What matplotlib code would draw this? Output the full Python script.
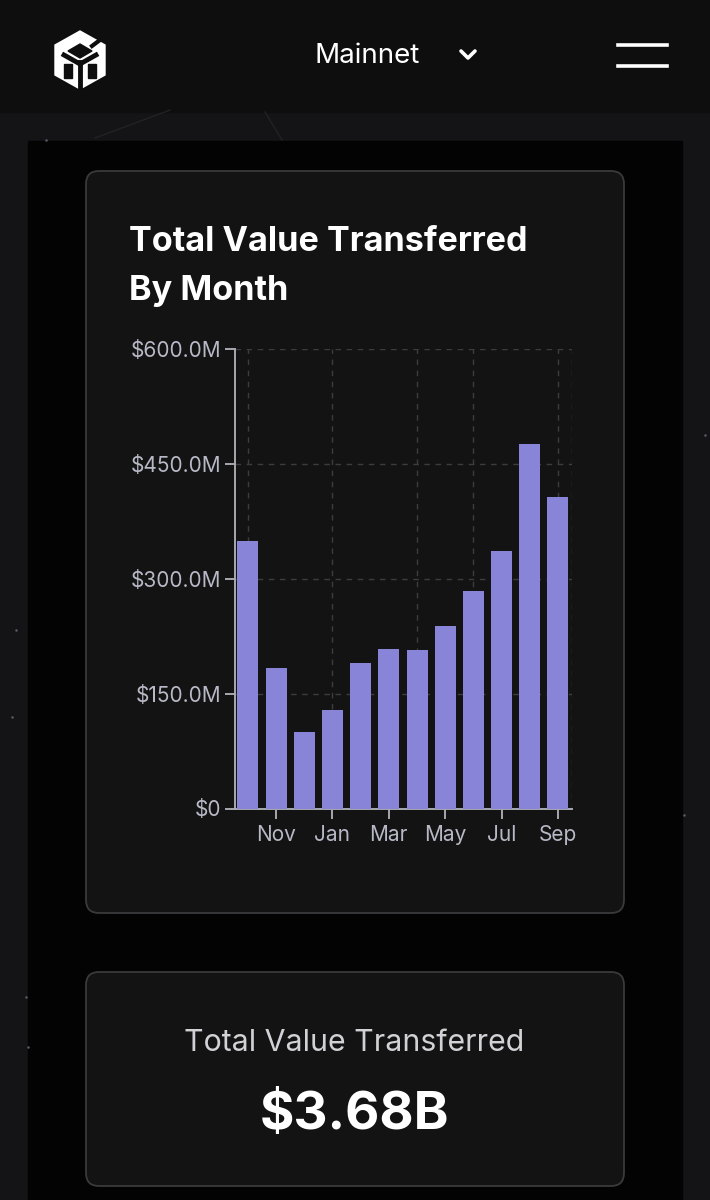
import matplotlib
matplotlib.use("Agg")
import matplotlib.pyplot as plt
from matplotlib.patches import FancyBboxPatch, Rectangle, Polygon
from matplotlib.ticker import FuncFormatter

# Data (values in $M)
months = ["Oct", "Nov", "Dec", "Jan", "Feb", "Mar", "Apr", "May", "Jun", "Jul", "Aug", "Sep"]
values = [349, 183, 100, 129, 190, 209, 207, 238, 284, 336, 476, 407]
y_ticks = [0, 150, 300, 450, 600]
x_tick_idx = [1, 3, 5, 7, 9, 11]
grid_idx = [0, 3, 6, 8, 11]
total_label = "$3.68B"

W, H = 710, 1200
BAR = "#8884d8"
TICK = "#b8b8c6"

plt.rcParams["font.family"] = ["Inter", "DejaVu Sans"]

fig = plt.figure(figsize=(W / 100, H / 100), dpi=100)
fig.patch.set_facecolor("#141416")

# page layer in pixel coordinates
bg = fig.add_axes([0, 0, 1, 1], zorder=0)
bg.set_xlim(0, W)
bg.set_ylim(H, 0)
bg.axis("off")

# faint background lines / dots
bg.plot([95, 170], [138, 110], color="#222226", lw=1)
bg.plot([265, 282], [112, 140], color="#222226", lw=1)
for px, py in [(46, 140), (16, 630), (12, 717), (26, 997), (28, 1047), (684, 815), (705, 435)]:
    bg.plot(px, py, "o", ms=1.8, color="#5a5a6a", mec="none")

# header
bg.add_patch(Rectangle((0, 0), W, 112, color="#0e0e0f", zorder=1))
# logo (rough cube)
hexa = [(80, 31), (105, 45), (105, 75), (80, 89), (55, 75), (55, 45)]
bg.add_patch(Polygon(hexa, closed=True, color="white", zorder=2))
bg.add_patch(Polygon([(80, 44), (92, 51), (80, 58), (68, 51)], closed=True, color="#0e0e0f", zorder=3))
bg.plot([80, 80], [62, 90], color="#0e0e0f", lw=3.5, zorder=3)
bg.plot([64, 80, 96], [55, 64, 55], color="#0e0e0f", lw=3.5, zorder=3)
bg.add_patch(Rectangle((64, 64), 8, 14, color="#0e0e0f", zorder=3))
bg.add_patch(Rectangle((88, 64), 8, 14, color="#0e0e0f", zorder=3))
bg.plot([92, 100], [46, 40], color="#0e0e0f", lw=3, zorder=3)

bg.text(367, 63, "Mainnet", color="white", fontsize=20, ha="center", va="baseline", zorder=3)
bg.plot([461, 468, 475], [51, 58, 51], color="white", lw=2.6, solid_capstyle="round", zorder=3)
bg.plot([618, 667], [45, 45], color="white", lw=2.6, zorder=3)
bg.plot([618, 667], [66, 66], color="white", lw=2.6, zorder=3)

# black content panel
bg.add_patch(Rectangle((28, 141), 654, H - 141, color="#030303", zorder=1))

# cards
for top, bottom in [(171, 913), (972, 1186)]:
    bg.add_patch(FancyBboxPatch((86, top), 538, bottom - top,
                                boxstyle="round,pad=0,rounding_size=13",
                                fc="#131314", ec="#3a3a3c", lw=1.3, zorder=2))

bg.text(129, 251, "Total Value Transferred", color="white", fontsize=24.6, fontweight="bold",
        va="baseline", zorder=3)
bg.text(129, 300, "By Month", color="white", fontsize=24.6, fontweight="bold",
        va="baseline", zorder=3)

bg.text(354, 1051, "Total Value Transferred", color="#d2d2d6", fontsize=21.8,
        ha="center", va="baseline", zorder=3)
bg.text(355, 1129, total_label, color="white", fontsize=38, fontweight="bold",
        ha="center", va="baseline", zorder=3)

# chart
x0, x1, ytop, ybot = 235, 571.7, 349.3, 808.5
ax = fig.add_axes([x0 / W, (H - ybot) / H, (x1 - x0) / W, (ybot - ytop) / H], zorder=2)
ax.set_facecolor("none")
xs = list(range(len(months)))
ax.bar(xs, values, width=0.745, color=BAR, zorder=3)
ax.set_xlim(-0.46, 11.49)
ax.set_ylim(0, 600)

for v in y_ticks[1:]:
    ax.axhline(v, color="#3c3c3e", lw=1, ls=(0, (4, 4)), zorder=1)
for i in grid_idx + [ax.get_xlim()[1]]:
    ax.axvline(i, color="#3c3c3e", lw=1, ls=(0, (4, 4)), zorder=1)

ax.set_yticks(y_ticks)
ax.yaxis.set_major_formatter(FuncFormatter(lambda v, _: "$0" if v == 0 else f"${v:.1f}M"))
ax.set_xticks(x_tick_idx)
ax.set_xticklabels([months[i] for i in x_tick_idx])

for s in ["top", "right"]:
    ax.spines[s].set_visible(False)
for s in ["left", "bottom"]:
    ax.spines[s].set_color("#a8a8b0")
    ax.spines[s].set_linewidth(1.4)
ax.tick_params(colors="#a8a8b0", labelcolor=TICK, labelsize=15, length=7, width=1.4)
ax.tick_params(axis="x", pad=5)
ax.tick_params(axis="y", pad=3)

fig.savefig("out.png", dpi=100, facecolor=fig.get_facecolor())
